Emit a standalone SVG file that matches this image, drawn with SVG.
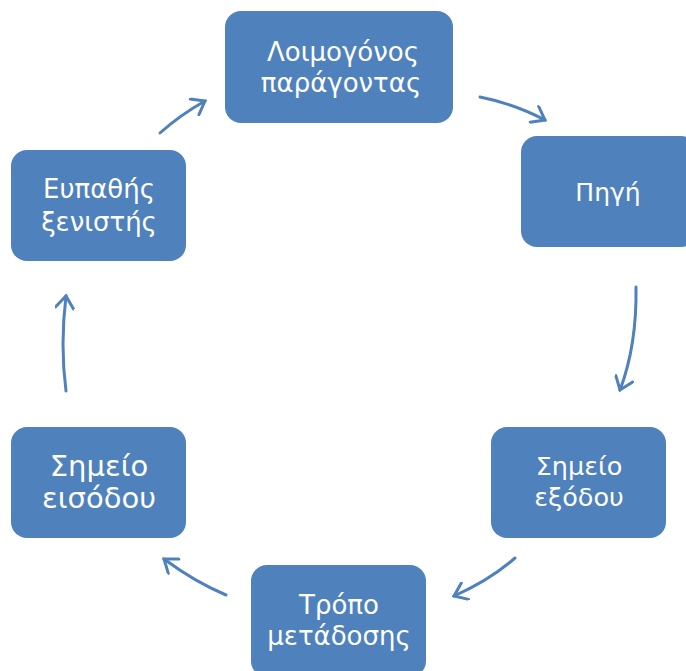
<svg xmlns="http://www.w3.org/2000/svg" width="686" height="671" viewBox="0 0 686 671">
<style>
.box{fill:#4F81BD;}
.t{fill:#fff;font-family:"DejaVu Sans","Liberation Sans",sans-serif;text-anchor:middle;}
.c{fill:none;stroke:#4F81BD;stroke-width:3;stroke-linecap:round;}
</style>
<defs>
<marker id="ah" viewBox="0 0 20 20" refX="16" refY="10" markerWidth="20" markerHeight="20" markerUnits="userSpaceOnUse" orient="auto">
<path d="M4,1 L16,10 L4,19" fill="none" stroke="#4F81BD" stroke-width="3" stroke-linecap="round" stroke-linejoin="miter"/>
</marker>
</defs>
<rect width="686" height="671" fill="#fff"/>
<g id="n1"><rect class="box" x="225" y="11" width="228" height="112" rx="16"/>
<text class="t" font-size="26" x="343" y="61">Λοιμογόνος</text><text class="t" font-size="26" x="341" y="92">παράγοντας</text></g>
<g id="n2"><rect class="box" x="521" y="136" width="176" height="111" rx="16"/>
<text class="t" font-size="25" x="608" y="201">Πηγή</text></g>
<g id="n3"><rect class="box" x="491" y="427" width="175" height="111" rx="16"/>
<text class="t" font-size="25.5" x="579" y="475">Σημείο</text><text class="t" font-size="25.5" x="579" y="506">εξόδου</text></g>
<g id="n4"><rect class="box" x="251" y="565" width="175" height="112" rx="16"/>
<text class="t" font-size="26" x="339" y="614">Τρόπο</text><text class="t" font-size="26" x="339" y="645">μετάδοσης</text></g>
<g id="n5"><rect class="box" x="11" y="427" width="175" height="111" rx="16"/>
<text class="t" font-size="29" x="99" y="476">Σημείο</text><text class="t" font-size="29" x="99" y="508">εισόδου</text></g>
<g id="n6"><rect class="box" x="11" y="150" width="175" height="111" rx="16"/>
<text class="t" font-size="26" x="99" y="198">Ευπαθής</text><text class="t" font-size="26" x="99" y="231">ξενιστής</text></g>
<g id="connectors">
<path class="c" marker-end="url(#ah)" d="M160,133 Q180,115 205,101"/>
<path class="c" marker-end="url(#ah)" d="M480,97 Q515,104 545,120"/>
<path class="c" marker-end="url(#ah)" d="M636,287 Q637,345 620,390"/>
<path class="c" marker-end="url(#ah)" d="M515,558 Q490,580 454,596"/>
<path class="c" marker-end="url(#ah)" d="M226,595 Q195,582 164,559"/>
<path class="c" marker-end="url(#ah)" d="M66,391 Q60,345 66,296"/>
</g>
</svg>
